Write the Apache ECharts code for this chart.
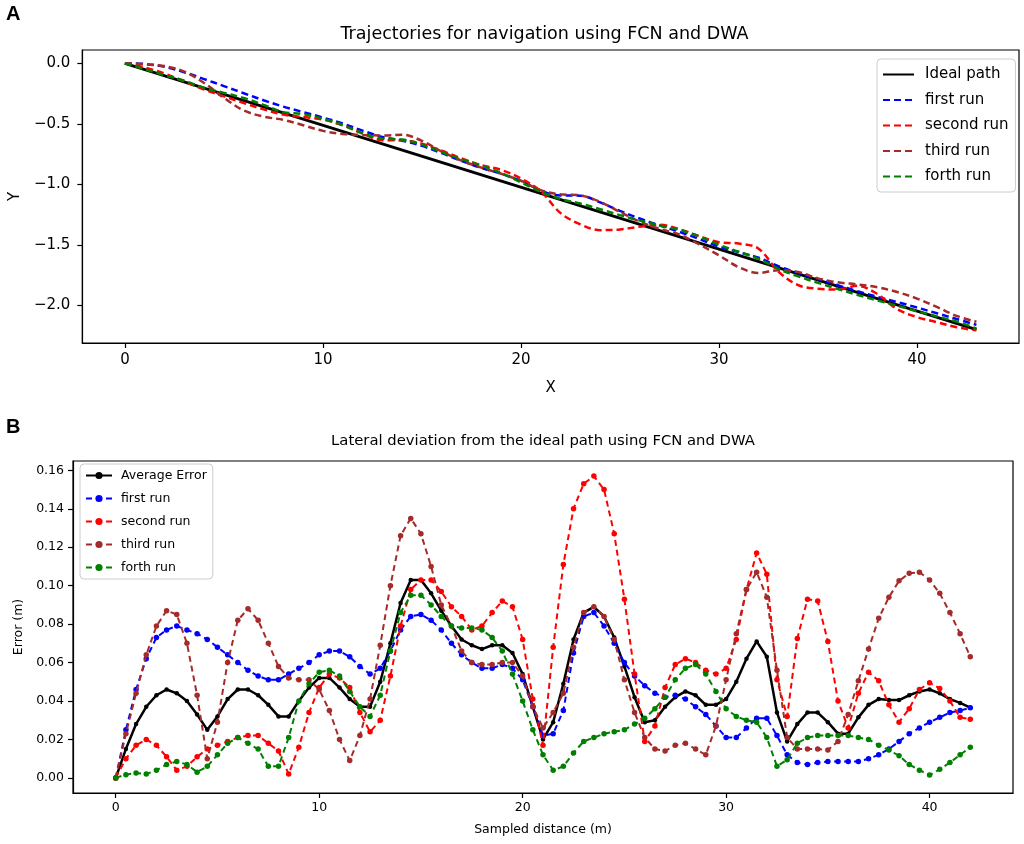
<!DOCTYPE html>
<html>
<head>
<meta charset="utf-8">
<script src="https://cdn.jsdelivr.net/npm/echarts@6/dist/echarts.min.js"></script>
<style>
html,body{margin:0;padding:0;background:#fff;}
#chart{width:1024px;height:844px;}
</style>
</head>
<body>
<div id="chart"></div>
<script>
// ---------- Panel A: trajectories ----------
const X_TOP = [0,1,2,3,4,5,6,7,8,9,10,11,12,13,14,15,16,17,18,19,20,21,22,23,24,25,26,27,28,29,30,31,32,33,34,35,36,37,38,39,40,41,42,43];
const IDEAL_X = [0, 43];
const IDEAL_Y = [0, -2.2];
const FIRST_TOP = [0,-0.005,-0.029,-0.074,-0.130,-0.188,-0.247,-0.305,-0.358,-0.403,-0.448,-0.497,-0.556,-0.608,-0.639,-0.682,-0.742,-0.806,-0.864,-0.913,-0.972,-1.052,-1.091,-1.093,-1.149,-1.219,-1.282,-1.339,-1.391,-1.451,-1.514,-1.560,-1.606,-1.676,-1.732,-1.782,-1.833,-1.883,-1.929,-1.972,-2.017,-2.064,-2.112,-2.160];
const SECOND_TOP = [0,-0.034,-0.085,-0.149,-0.216,-0.273,-0.328,-0.380,-0.423,-0.444,-0.465,-0.512,-0.580,-0.635,-0.637,-0.664,-0.722,-0.786,-0.842,-0.880,-0.951,-1.057,-1.237,-1.330,-1.378,-1.372,-1.349,-1.334,-1.370,-1.428,-1.478,-1.488,-1.531,-1.720,-1.832,-1.862,-1.868,-1.838,-1.906,-2.031,-2.096,-2.138,-2.180,-2.205];
const THIRD_TOP = [0,-0.007,-0.023,-0.068,-0.162,-0.285,-0.389,-0.440,-0.467,-0.511,-0.558,-0.583,-0.592,-0.596,-0.590,-0.640,-0.729,-0.804,-0.862,-0.912,-0.970,-1.048,-1.082,-1.091,-1.144,-1.228,-1.309,-1.367,-1.414,-1.496,-1.586,-1.684,-1.731,-1.709,-1.724,-1.776,-1.809,-1.826,-1.850,-1.889,-1.943,-2.012,-2.086,-2.135];
const FORTH_TOP = [0,-0.0485,-0.098,-0.1445,-0.202,-0.244,-0.286,-0.343,-0.403,-0.420,-0.457,-0.510,-0.577,-0.622,-0.630,-0.672,-0.735,-0.792,-0.844,-0.906,-0.983,-1.062,-1.120,-1.158,-1.205,-1.254,-1.299,-1.339,-1.375,-1.430,-1.499,-1.556,-1.616,-1.6975,-1.760,-1.813,-1.864,-1.913,-1.9585,-2.002,-2.0475,-2.090,-2.133,-2.190];
const TOP_X_TICKS = [0, 10, 20, 30, 40];
const TOP_Y_TICKS = [-2.0, -1.5, -1.0, -0.5, 0.0];

// ---------- Panel B: lateral deviation ----------
const SAMPLED = [0,0.5,1,1.5,2,2.5,3,3.5,4,4.5,5,5.5,6,6.5,7,7.5,8,8.5,9,9.5,10,10.5,11,11.5,12,12.5,13,13.5,14,14.5,15,15.5,16,16.5,17,17.5,18,18.5,19,19.5,20,20.5,21,21.5,22,22.5,23,23.5,24,24.5,25,25.5,26,26.5,27,27.5,28,28.5,29,29.5,30,30.5,31,31.5,32,32.5,33,33.5,34,34.5,35,35.5,36,36.5,37,37.5,38,38.5,39,39.5,40,40.5,41,41.5,42];
const AVG_ERR = [0,0.015,0.028,0.037,0.043,0.046,0.044,0.040,0.033,0.025,0.032,0.041,0.046,0.046,0.043,0.038,0.032,0.032,0.040,0.047,0.052,0.052,0.047,0.041,0.037,0.037,0.050,0.070,0.091,0.103,0.103,0.096,0.087,0.079,0.072,0.069,0.067,0.069,0.069,0.065,0.054,0.037,0.020,0.029,0.049,0.072,0.086,0.089,0.084,0.073,0.058,0.042,0.029,0.030,0.037,0.042,0.045,0.043,0.038,0.038,0.041,0.050,0.062,0.071,0.063,0.034,0.019,0.028,0.034,0.034,0.029,0.023,0.023,0.0315,0.038,0.041,0.0405,0.0405,0.043,0.045,0.046,0.044,0.041,0.039,0.0365];
const FIRST_ERR = [0,0.025,0.046,0.062,0.073,0.077,0.079,0.077,0.075,0.072,0.068,0.064,0.060,0.056,0.053,0.051,0.051,0.054,0.057,0.060,0.064,0.066,0.066,0.063,0.058,0.054,0.057,0.066,0.077,0.084,0.085,0.082,0.077,0.070,0.064,0.060,0.057,0.057,0.059,0.057,0.051,0.037,0.022,0.023,0.035,0.065,0.084,0.086,0.079,0.070,0.060,0.053,0.048,0.044,0.042,0.043,0.041,0.037,0.033,0.027,0.021,0.021,0.026,0.031,0.031,0.022,0.012,0.008,0.007,0.008,0.0085,0.0085,0.0085,0.0085,0.010,0.012,0.015,0.019,0.023,0.026,0.029,0.0315,0.034,0.035,0.0365];
const SECOND_ERR = [0,0.010,0.017,0.020,0.017,0.011,0.004,0.006,0.011,0.015,0.017,0.019,0.021,0.022,0.022,0.018,0.014,0.002,0.016,0.034,0.047,0.054,0.052,0.047,0.034,0.024,0.030,0.053,0.079,0.098,0.103,0.103,0.097,0.089,0.084,0.077,0.079,0.086,0.092,0.089,0.072,0.041,0.017,0.068,0.111,0.140,0.153,0.157,0.150,0.127,0.093,0.054,0.019,0.027,0.047,0.059,0.062,0.060,0.056,0.054,0.057,0.072,0.098,0.117,0.106,0.051,0.032,0.0725,0.093,0.092,0.071,0.040,0.026,0.044,0.055,0.0505,0.038,0.029,0.036,0.046,0.0495,0.0465,0.040,0.0315,0.0305];
const THIRD_ERR = [0,0.023,0.044,0.064,0.079,0.087,0.085,0.070,0.043,0.010,0.029,0.060,0.082,0.088,0.082,0.070,0.058,0.052,0.051,0.051,0.046,0.035,0.020,0.009,0.022,0.041,0.069,0.100,0.126,0.135,0.127,0.110,0.090,0.079,0.066,0.060,0.059,0.059,0.060,0.060,0.053,0.037,0.026,0.034,0.044,0.068,0.086,0.089,0.084,0.072,0.051,0.034,0.021,0.015,0.014,0.017,0.018,0.015,0.012,0.027,0.051,0.075,0.098,0.107,0.094,0.056,0.021,0.015,0.015,0.015,0.0145,0.019,0.033,0.0505,0.067,0.083,0.094,0.1025,0.1065,0.107,0.103,0.096,0.086,0.075,0.063];
const FORTH_ERR = [0,0.0017,0.0025,0.002,0.004,0.007,0.0085,0.007,0.003,0.006,0.012,0.018,0.021,0.018,0.015,0.006,0.006,0.021,0.040,0.049,0.055,0.056,0.053,0.045,0.037,0.032,0.043,0.066,0.086,0.095,0.095,0.090,0.084,0.079,0.078,0.078,0.077,0.073,0.066,0.054,0.040,0.025,0.012,0.004,0.006,0.013,0.019,0.021,0.023,0.024,0.025,0.028,0.031,0.036,0.042,0.051,0.057,0.059,0.054,0.045,0.036,0.032,0.030,0.029,0.021,0.006,0.0095,0.018,0.021,0.022,0.022,0.022,0.022,0.021,0.020,0.017,0.0145,0.0115,0.007,0.004,0.0015,0.0045,0.008,0.012,0.016];
const BOT_X_TICKS = [0, 10, 20, 30, 40];
const BOT_Y_TICKS = [0, 0.02, 0.04, 0.06, 0.08, 0.10, 0.12, 0.14, 0.16];

const FONT = 'DejaVu Sans';
const MINUS = '\u2212';
function fmt(v, d) { const s = Math.abs(v).toFixed(d); return (v < -1e-9 ? MINUS : '') + s; }
function pairs(xs, ys) { return xs.map((x, i) => [x, ys[i]]); }

const topRuns = [
  { name: 'A|first run', data: FIRST_TOP, color: '#0000ff' },
  { name: 'A|second run', data: SECOND_TOP, color: '#ff0000' },
  { name: 'A|third run', data: THIRD_TOP, color: '#a52a2a' },
  { name: 'A|forth run', data: FORTH_TOP, color: '#008000' }
];
const botRuns = [
  { name: 'B|first run', data: FIRST_ERR, color: '#0000ff' },
  { name: 'B|second run', data: SECOND_ERR, color: '#ff0000' },
  { name: 'B|third run', data: THIRD_ERR, color: '#a52a2a' },
  { name: 'B|forth run', data: FORTH_ERR, color: '#008000' }
];

const series = [];
series.push({
  name: 'A|Ideal path', type: 'line', xAxisIndex: 0, yAxisIndex: 0,
  data: pairs(IDEAL_X, IDEAL_Y), symbol: 'none', silent: true,
  lineStyle: { color: '#000', width: 3 }, itemStyle: { color: '#000' }, z: 2
});
topRuns.forEach((r, k) => series.push({
  name: r.name, type: 'line', xAxisIndex: 0, yAxisIndex: 0,
  data: pairs(X_TOP, r.data), symbol: 'none', smooth: 0.35, silent: true,
  lineStyle: { color: r.color, width: 2.5, type: [7, 4] }, itemStyle: { color: r.color }, z: 3 + k
}));
series.push({
  name: 'B|Average Error', type: 'line', xAxisIndex: 1, yAxisIndex: 1,
  data: pairs(SAMPLED, AVG_ERR), symbol: 'circle', symbolSize: 4.5, showAllSymbol: true, silent: true,
  lineStyle: { color: '#000', width: 2.5 }, itemStyle: { color: '#000' }, z: 2
});
botRuns.forEach((r, k) => series.push({
  name: r.name, type: 'line', xAxisIndex: 1, yAxisIndex: 1,
  data: pairs(SAMPLED, r.data), symbol: 'circle', symbolSize: 5.5, showAllSymbol: true, silent: true,
  lineStyle: { color: r.color, width: 2, type: [6, 4] }, itemStyle: { color: r.color }, z: 3 + k
}));

const axisCommon = {
  axisLine: { show: true, onZero: false, lineStyle: { color: '#000', width: 1.2 } },
  axisTick: { show: true, inside: false, length: 5, lineStyle: { color: '#000', width: 1.2 } },
  splitLine: { show: false }
};

const option = {
  animation: false,
  backgroundColor: '#fff',
  textStyle: { fontFamily: FONT, color: '#000' },
  grid: [
    { left: 70, top: 50, width: 949, height: 293, show: true, borderColor: '#000', borderWidth: 1.2, backgroundColor: 'transparent' },
    { left: 73, top: 461, width: 940, height: 332, show: true, borderColor: '#000', borderWidth: 1.2, backgroundColor: 'transparent' }
  ],
  xAxis: [
    Object.assign({}, axisCommon, {
      type: 'value', gridIndex: 0, min: -2.15, max: 45.15,
      axisLabel: { customValues: TOP_X_TICKS, fontSize: 15, color: '#000', margin: 10, formatter: v => fmt(v, 0) },
      axisTick: Object.assign({}, axisCommon.axisTick, { customValues: TOP_X_TICKS }),
      name: 'X', nameLocation: 'middle', nameGap: 38, nameTextStyle: { fontSize: 15, color: '#000' }
    }),
    Object.assign({}, axisCommon, {
      type: 'value', gridIndex: 1, min: -2.1, max: 44.1,
      axisLabel: { customValues: BOT_X_TICKS, fontSize: 12.5, color: '#000', margin: 8, formatter: v => fmt(v, 0) },
      axisTick: Object.assign({}, axisCommon.axisTick, { customValues: BOT_X_TICKS }),
      name: 'Sampled distance (m)', nameLocation: 'middle', nameGap: 30, nameTextStyle: { fontSize: 12.5, color: '#000' }
    })
  ],
  yAxis: [
    Object.assign({}, axisCommon, {
      type: 'value', gridIndex: 0, min: -2.31, max: 0.11,
      axisLabel: { customValues: TOP_Y_TICKS, fontSize: 15, color: '#000', margin: 12, formatter: v => fmt(v, 1) },
      axisTick: Object.assign({}, axisCommon.axisTick, { customValues: TOP_Y_TICKS }),
      name: 'Y', nameLocation: 'middle', nameGap: 56, nameTextStyle: { fontSize: 15, color: '#000' }
    }),
    Object.assign({}, axisCommon, {
      type: 'value', gridIndex: 1, min: -0.00785, max: 0.16485,
      axisLabel: { customValues: BOT_Y_TICKS, fontSize: 12.5, color: '#000', margin: 9, formatter: v => fmt(v, 2) },
      axisTick: Object.assign({}, axisCommon.axisTick, { customValues: BOT_Y_TICKS }),
      name: 'Error (m)', nameLocation: 'middle', nameGap: 40, nameTextStyle: { fontSize: 12.5, color: '#000' }
    })
  ],
  legend: [
    {
      data: ['A|Ideal path', 'A|first run', 'A|second run', 'A|third run', 'A|forth run'],
      formatter: n => n.slice(2), orient: 'vertical', left: 877, top: 59,
      padding: [8, 7, 8, 5], itemWidth: 31, itemHeight: 14, itemGap: 10.5,
      itemStyle: { opacity: 0 },
      textStyle: { fontSize: 15, color: '#000', fontFamily: FONT, padding: [0, 0, 0, 6] },
      borderColor: '#cccccc', borderWidth: 1, borderRadius: 4, backgroundColor: '#fff',
      selectedMode: false
    },
    {
      data: ['B|Average Error', 'B|first run', 'B|second run', 'B|third run', 'B|forth run'],
      formatter: n => n.slice(2), orient: 'vertical', left: 80, top: 464,
      padding: [5, 6, 5, 5], itemWidth: 26, itemHeight: 9, itemGap: 10,
      textStyle: { fontSize: 12.5, color: '#000', fontFamily: FONT, padding: [0, 0, 0, 4] },
      borderColor: '#cccccc', borderWidth: 1, borderRadius: 4, backgroundColor: '#fff',
      selectedMode: false
    }
  ],
  graphic: [
    { type: 'text', left: 6, top: 4, style: { text: 'A', font: 'bold 20px "Liberation Sans", Arial, sans-serif', fill: '#000' } },
    { type: 'text', left: 6, top: 417, style: { text: 'B', font: 'bold 20px "Liberation Sans", Arial, sans-serif', fill: '#000' } },
    { type: 'text', x: 544.5, y: 34, style: { text: 'Trajectories for navigation using FCN and DWA', font: '17.5px "DejaVu Sans"', fill: '#000', textAlign: 'center', textVerticalAlign: 'middle' } },
    { type: 'text', x: 543, y: 441, style: { text: 'Lateral deviation from the ideal path using FCN and DWA', font: '14.8px "DejaVu Sans"', fill: '#000', textAlign: 'center', textVerticalAlign: 'middle' } }
  ],
  series: series
};

const chart = echarts.init(document.getElementById('chart'), null, { renderer: 'canvas' });
chart.setOption(option);
</script>
</body>
</html>
